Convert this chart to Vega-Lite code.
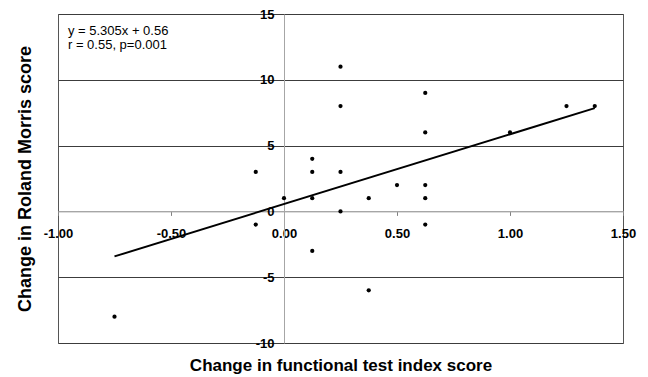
{
  "$schema": "https://vega.github.io/schema/vega-lite/v6.json",
  "width": 565,
  "height": 329,
  "autosize": {"type": "none"},
  "padding": {"left": 58, "top": 14, "right": 25, "bottom": 34},
  "background": "white",
  "config": {
    "view": {"stroke": "#555555", "strokeWidth": 1},
    "font": "Liberation Sans",
    "axis": {"labelFont": "Liberation Sans", "titleFont": "Liberation Sans", "labelColor": "#000000", "titleColor": "#000000"}
  },
  "datasets": {
    "points": [
      {"fti": -0.75, "rm": -8},
      {"fti": -0.125, "rm": 3},
      {"fti": -0.125, "rm": -1},
      {"fti": 0, "rm": 1},
      {"fti": 0.125, "rm": 4},
      {"fti": 0.125, "rm": 3},
      {"fti": 0.125, "rm": 1},
      {"fti": 0.125, "rm": -3},
      {"fti": 0.25, "rm": 11},
      {"fti": 0.25, "rm": 8},
      {"fti": 0.25, "rm": 3},
      {"fti": 0.25, "rm": 0},
      {"fti": 0.375, "rm": 1},
      {"fti": 0.375, "rm": -6},
      {"fti": 0.5, "rm": 2},
      {"fti": 0.625, "rm": 9},
      {"fti": 0.625, "rm": 6},
      {"fti": 0.625, "rm": 2},
      {"fti": 0.625, "rm": 1},
      {"fti": 0.625, "rm": -1},
      {"fti": 1.0, "rm": 6},
      {"fti": 1.25, "rm": 8},
      {"fti": 1.375, "rm": 8}
    ],
    "fit": [
      {"fti": -0.75, "rm": -3.42},
      {"fti": 1.375, "rm": 7.85}
    ],
    "notes": [
      {"fti": -0.956, "rm": 13.37, "label": "y = 5.305x + 0.56"},
      {"fti": -0.956, "rm": 12.33, "label": "r = 0.55, p=0.001"}
    ]
  },
  "layer": [
    {
      "data": {"name": "points"},
      "mark": {"type": "point", "filled": true, "color": "black", "opacity": 1, "size": 18},
      "encoding": {
        "x": {
          "field": "fti", "type": "quantitative",
          "scale": {"domain": [-1, 1.5], "nice": false, "zero": false},
          "axis": {
            "title": "Change in functional test index score",
            "offset": -131.6,
            "values": [-1, -0.5, 0, 0.5, 1, 1.5],
            "labelExpr": "replace(format(datum.value, '.2f'), '\u2212', '-')",
            "grid": false,
            "domainColor": "#a6a6a6",
            "tickColor": "#808080",
            "tickSize": 4,
            "labelPadding": 12,
            "labelFlush": false,
            "labelOverlap": false,
            "labelFontWeight": "bold",
            "labelFontSize": 13,
            "titleFontSize": 17,
            "titleFontWeight": "bold",
            "titleY": 158.6,
            "titleBaseline": "alphabetic"
          }
        },
        "y": {
          "field": "rm", "type": "quantitative",
          "scale": {"domain": [-10, 15], "nice": false, "zero": false},
          "axis": {
            "title": "Change in Roland Morris score",
            "offset": -226,
            "values": [-10, -5, 0, 5, 10, 15],
            "labelExpr": "replace(format(datum.value, 'd'), '\u2212', '-')",
            "grid": true,
            "gridColor": {"condition": {"test": "datum.value === 0", "value": "#a6a6a6"}, "value": "#3c3c3c"},
            "gridOpacity": 1,
            "domainColor": "#a6a6a6",
            "ticks": false,
            "tickSize": 0,
            "labelPadding": 10,
            "labelOverlap": false,
            "labelFontWeight": "bold",
            "labelFontSize": 13,
            "titleFontSize": 18,
            "titleFontWeight": "bold",
            "titleAngle": -90,
            "titleX": -259,
            "titleY": 164.5,
            "titleAlign": "center",
            "titleBaseline": "middle"
          }
        }
      }
    },
    {
      "data": {"name": "fit"},
      "mark": {"type": "line", "color": "black", "strokeWidth": 2},
      "encoding": {
        "x": {"field": "fti", "type": "quantitative"},
        "y": {"field": "rm", "type": "quantitative"}
      }
    },
    {
      "data": {"name": "notes"},
      "mark": {"type": "text", "align": "left", "baseline": "alphabetic", "fontSize": 13, "color": "black", "font": "Liberation Sans"},
      "encoding": {
        "x": {"field": "fti", "type": "quantitative"},
        "y": {"field": "rm", "type": "quantitative"},
        "text": {"field": "label"}
      }
    }
  ]
}
